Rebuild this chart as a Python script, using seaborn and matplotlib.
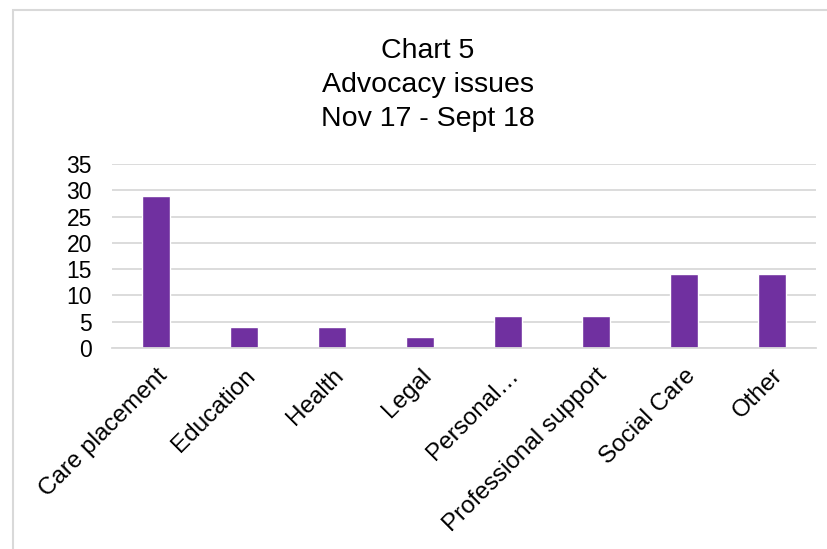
import matplotlib
matplotlib.use("Agg")
import matplotlib.pyplot as plt
import matplotlib.transforms as mtransforms
import seaborn as sns
import pandas as pd
from matplotlib.patches import Rectangle

categories = ["Care placement", "Education", "Health", "Legal", "Personal…",
              "Professional support", "Social Care", "Other"]
counts = [29, 4, 4, 2, 6, 6, 14, 14]
y_ticks = [0, 5, 10, 15, 20, 25, 30, 35]
title_lines = ["Chart 5", "Advocacy issues", "Nov 17 - Sept 18"]

sns.set_theme(style="white")
plt.rcParams["font.family"] = ["Liberation Sans", "DejaVu Sans"]

df = pd.DataFrame({"issue": categories, "count": counts})

W, H = 828, 549
fig = plt.figure(figsize=(W / 100, H / 100), dpi=100)
fig.patch.set_facecolor("white")
ax = fig.add_axes([112 / W, 1 - 348 / H, (816 - 112) / W, (348 - 164) / H])

sns.barplot(data=df, x="issue", y="count", color="#7030A0", saturation=1,
            width=0.32, ax=ax, zorder=3)

ax.set_ylim(0, 35)
ax.set_yticks(y_ticks)
ax.set_yticklabels([str(v) for v in y_ticks], fontsize=16.5, color="#000000")
ax.yaxis.grid(True, color="#d9d9d9", linewidth=1.3, zorder=0)
ax.xaxis.grid(False)
for side in ["left", "right", "top"]:
    ax.spines[side].set_visible(False)
ax.spines["bottom"].set_color("#d9d9d9")
ax.spines["bottom"].set_linewidth(1.3)
ax.spines["bottom"].set_zorder(4)
ax.tick_params(axis="both", length=0)
ax.tick_params(axis="y", pad=14.5)
ax.set_xlabel("")
ax.set_ylabel("")
ax.set_xticks(range(len(categories)))
ax.set_xticklabels(categories, rotation=45, ha="right", rotation_mode="anchor",
                   fontsize=17.5, color="#000000")
ax.tick_params(axis="x", pad=12)
shift = mtransforms.ScaledTranslation(0, 0, fig.dpi_scale_trans)
for lbl in ax.get_xticklabels():
    lbl.set_transform(lbl.get_transform() + shift)

# Three-line chart title
baselines = [58, 92, 126]
for line, b in zip(title_lines, baselines):
    fig.text(428 / W, 1 - b / H, line, ha="center", va="baseline",
             fontsize=20.5, color="#000000")

# Chart area outline
fig.patches.append(Rectangle((13 / W, -0.05), 1.0, 1 - 10 / H + 0.05,
                             transform=fig.transFigure, fill=False,
                             edgecolor="#d9d9d9", linewidth=1.5))

fig.savefig("out.png", dpi=100)
